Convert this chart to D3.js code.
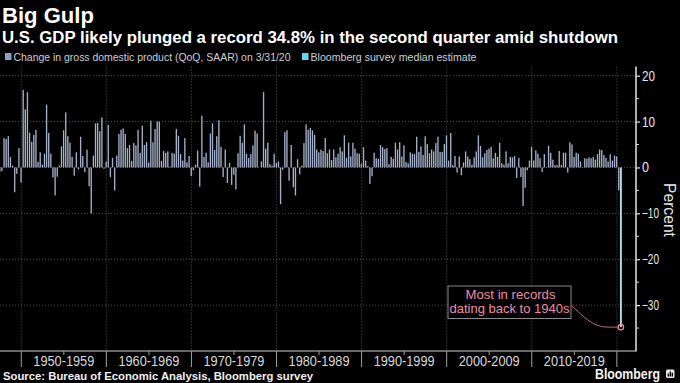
<!DOCTYPE html>
<html><head><meta charset="utf-8">
<script src="https://cdnjs.cloudflare.com/ajax/libs/d3/7.8.5/d3.min.js"></script>
<style>
html,body{margin:0;padding:0;background:#000;}
svg{display:block;}
</style></head>
<body>
<svg id="c" width="680" height="383"></svg>
<script>
// ---- Data ----
const startYear = 1947;
const startQuarter = 2;
const gdpGrowth = [
  -1.0,-0.8,6.4,
  6.2,6.8,2.3,0.4,
  -5.4,-1.4,4.2,-3.3,
  16.9,12.7,16.4,7.6,
  5.6,7.1,8.2,1.2,
  3.3,0.6,3.0,13.7,
  7.5,3.0,-2.2,-6.1,
  -2.0,0.4,4.6,8.1,
  12.0,6.8,5.4,2.3,
  -1.8,3.3,-0.4,6.7,
  2.5,-1.0,3.9,-4.1,
  -10.0,2.6,9.6,9.7,
  7.9,10.9,-0.3,1.3,
  9.3,-2.1,2.1,-5.0,
  2.6,7.3,8.2,8.5,
  7.3,4.2,4.9,1.4,
  5.3,4.8,8.2,3.2,
  9.1,4.9,5.5,1.1,
  10.2,5.5,8.4,10.0,
  10.0,1.4,3.6,3.2,
  3.5,0.2,3.2,3.0,
  8.4,6.9,2.9,1.5,
  6.4,1.1,2.5,-1.9,
  -0.6,0.6,3.7,-4.2,
  11.3,2.3,3.2,1.1,
  7.4,9.6,3.8,6.8,
  10.3,4.5,-2.1,3.9,
  -3.4,1.0,-3.8,-1.6,
  -4.8,3.1,6.9,5.4,
  9.4,3.0,2.1,2.9,
  4.8,8.0,7.4,0.0,
  1.3,16.4,4.1,5.4,
  0.7,0.4,3.0,1.0,
  1.3,-8.0,-0.5,7.7,
  8.1,-2.9,4.9,-4.3,
  -6.1,1.8,-1.5,0.4,
  5.3,9.4,8.2,8.6,
  8.1,7.1,3.9,3.3,
  3.9,3.6,6.4,3.1,
  3.9,1.6,3.9,2.2,
  3.0,4.4,3.5,7.0,
  2.1,5.4,2.4,5.4,
  4.1,3.1,3.0,0.8,
  4.4,1.5,0.3,-3.6,
  -1.9,3.2,2.0,1.9,
  4.9,4.4,4.0,4.2,
  0.7,2.3,1.9,5.4,
  3.9,5.5,2.4,4.8,
  1.2,0.9,3.3,3.0,
  2.9,6.7,3.4,4.6,
  2.7,6.8,5.1,3.1,
  3.9,3.5,5.3,6.7,
  3.4,3.4,5.1,7.0,
  1.5,7.5,0.5,2.5,
  -1.1,2.4,-1.7,1.1,
  3.5,2.4,1.8,0.6,
  2.2,3.5,7.0,4.7,
  2.2,3.1,3.8,4.1,
  4.5,2.0,3.2,2.3,
  5.4,0.9,0.6,3.5,
  0.9,2.3,2.2,2.5,
  -2.3,2.1,-2.1,-8.4,
  -4.4,-0.6,1.5,4.5,
  1.5,3.7,3.0,2.0,
  -1.0,2.9,-0.1,4.7,
  3.2,1.7,0.5,0.5,
  3.6,0.5,3.2,3.2,
  -1.1,5.5,5.0,2.3,
  3.2,3.0,1.3,0.1,
  2.0,1.9,2.2,2.0,
  2.3,1.7,2.9,3.9,
  3.8,2.7,2.1,1.3,
  2.9,1.5,2.6,2.4,
  -5.0
];
const estimateTime = 2020.25;   // 2020 Q2
const estimateValue = -34.8;
const decadeStarts = [1950,1960,1970,1980,1990,2000,2010,2020];
const decadeLabels = ["1950-1959","1960-1969","1970-1979","1980-1989","1990-1999","2000-2009","2010-2019"];
const yTicks = [20,10,0,-10,-20,-30];
const yMinorTicks = [15,5,-5,-15,-25,-35];
const titleText = "Big Gulp";
const subtitleText = "U.S. GDP likely plunged a record 34.8% in the second quarter amid shutdown";
const legendLabels = ["Change in gross domestic product (QoQ, SAAR) on 3/31/20","Bloomberg survey median estimate"];
const noteLines = ["Most in records","dating back to 1940s"];
const sourceText = "Source: Bureau of Economic Analysis, Bloomberg survey";

const series = gdpGrowth.map((v,i)=>{
  const qi = (startQuarter-1) + i;
  return {t: startYear + qi/4, v};
});

// ---- Layout ----
const svg = d3.select("#c");
const W = 680, H = 383;
const plotLeft = 0, plotRight = 636, plotTop = 66.5, plotBottom = 351;
const FONT = "'Liberation Sans', Arial, sans-serif";
const barColor = "#a4afc9";
const estColor = "#b4dbe0";

svg.append("rect").attr("width",W).attr("height",H).attr("fill","#000");

const x = d3.scaleLinear().domain([1947.5, 2022.25]).range([plotLeft, plotRight]);
const y = d3.scaleLinear().domain([-40, 22]).range([plotBottom, plotTop]);
const qw = x(1950.25) - x(1950);
const barW = 1.35;
const cx = t => x(t) + qw*0.9;

function fit(sel, target){
  const n = sel.node();
  const len = n.getComputedTextLength();
  const fs = parseFloat(sel.attr("font-size"));
  sel.attr("font-size", fs*target/len);
  return sel;
}

// gridlines
const grid = svg.append("g");
grid.selectAll("line.h").data(yTicks).join("line")
  .attr("x1",plotLeft).attr("x2",plotRight)
  .attr("y1",d=>y(d)).attr("y2",d=>y(d))
  .attr("stroke","#6a6a6a").attr("stroke-width",0.8).attr("stroke-dasharray","1,2");
grid.selectAll("line.v").data(decadeStarts).join("line")
  .attr("x1",d=>x(d)).attr("x2",d=>x(d))
  .attr("y1",plotTop).attr("y2",plotBottom)
  .attr("stroke","#6a6a6a").attr("stroke-width",0.8).attr("stroke-dasharray","1,2");

// bars
svg.append("clipPath").attr("id","pc").append("rect")
  .attr("x",plotLeft).attr("y",0).attr("width",plotRight-plotLeft).attr("height",H);
const bars = svg.append("g").attr("clip-path","url(#pc)");
bars.selectAll("rect").data(series).join("rect")
  .attr("x",d=>cx(d.t)-barW/2)
  .attr("width",barW)
  .attr("y",d=>Math.min(y(d.v),y(0)))
  .attr("height",d=>Math.abs(y(d.v)-y(0)))
  .attr("fill",barColor);
bars.append("rect")
  .attr("x",cx(estimateTime)-barW/2-0.3)
  .attr("width",barW+0.6)
  .attr("y",y(0))
  .attr("height",y(estimateValue)-y(0))
  .attr("fill",estColor);

// right axis
const yAxis = d3.axisRight(y).tickValues(yTicks).tickSize(4).tickPadding(2).tickFormat(d3.format("d"));
const ya = svg.append("g").attr("transform",`translate(${plotRight},0)`).call(yAxis);
ya.select(".domain").remove();
ya.selectAll("line").attr("stroke","#e6e6e6").attr("stroke-width",1.2);
ya.selectAll("text").attr("fill","#e6e6e6").attr("font-family",FONT).attr("font-size",14);
ya.selectAll(".tick text").each(function(d){
  const s=d3.select(this); const t=String(d);
  s.attr("textLength", t.length===1?7:(t.length===2?13:17)).attr("lengthAdjust","spacingAndGlyphs");
});
svg.append("g").selectAll("line").data(yMinorTicks).join("line")
  .attr("x1",plotRight).attr("x2",plotRight+3)
  .attr("y1",d=>y(d)).attr("y2",d=>y(d))
  .attr("stroke","#cfcfcf").attr("stroke-width",1);
svg.append("line").attr("x1",plotRight).attr("x2",plotRight)
  .attr("y1",plotTop).attr("y2",plotBottom+0.5)
  .attr("stroke","#e6e6e6").attr("stroke-width",1.5);

// Percent label
const pl = svg.append("text").text("Percent")
  .attr("transform",`translate(664,${183}) rotate(90)`)
  .attr("fill","#e6e6e6").attr("font-family",FONT).attr("font-size",15);
fit(pl,54);

// bottom axis
svg.append("line").attr("x1",plotLeft).attr("x2",plotRight)
  .attr("y1",plotBottom).attr("y2",plotBottom)
  .attr("stroke","#d0d0d0").attr("stroke-width",1.2);
svg.append("g").selectAll("line").data(decadeStarts).join("line")
  .attr("x1",d=>x(d)).attr("x2",d=>x(d))
  .attr("y1",plotBottom).attr("y2",plotBottom+16)
  .attr("stroke","#a0a0a0").attr("stroke-width",1);
svg.append("g").selectAll("line").data(decadeStarts.slice(0,7)).join("line")
  .attr("x1",d=>x(d+5)).attr("x2",d=>x(d+5))
  .attr("y1",plotBottom).attr("y2",plotBottom+4)
  .attr("stroke","#a0a0a0").attr("stroke-width",1);
svg.append("g").selectAll("text").data(decadeLabels).join("text")
  .attr("x",(d,i)=>x(decadeStarts[i]+5)).attr("y",365.5)
  .attr("text-anchor","middle")
  .attr("fill","#d8d8d8").attr("font-family",FONT).attr("font-size",14)
  .attr("textLength",61).attr("lengthAdjust","spacingAndGlyphs")
  .text(d=>d);

// title / subtitle
fit(svg.append("text").text(titleText).attr("x",2).attr("y",23)
  .attr("fill","#fff").attr("font-family",FONT).attr("font-weight","bold").attr("font-size",23), 92);
svg.append("text").text(subtitleText).attr("x",2).attr("y",42.5)
  .attr("fill","#fff").attr("font-family",FONT).attr("font-weight","bold").attr("font-size",16)
  .attr("textLength",616).attr("lengthAdjust","spacingAndGlyphs");

// legend
const legX = [5, 302];
const legW = [277, 166];
const legC = ["#8d9ec8", "#62d9e9"];
legendLabels.forEach((lab,i)=>{
  svg.append("rect").attr("x",legX[i]).attr("y",53).attr("width",6.5).attr("height",7).attr("fill",legC[i]);
  svg.append("text").text(lab).attr("x",legX[i]+8.5).attr("y",60.5)
    .attr("fill","#cfcfcf").attr("font-family",FONT).attr("font-size",11.5)
    .attr("textLength",legW[i]).attr("lengthAdjust","spacingAndGlyphs");
});

// annotation
const ex = cx(estimateTime), ey = y(estimateValue);
const bx0 = 448, bx1 = 571, by0 = 286, by1 = 318.5;
svg.append("rect").attr("x",bx0).attr("y",by0).attr("width",bx1-bx0).attr("height",by1-by0)
  .attr("fill","#000").attr("stroke","#8a8a8a").attr("stroke-width",1);
const pink = "#f08ca4";
svg.append("text").text(noteLines[0]).attr("x",(bx0+bx1)/2+1).attr("y",299)
  .attr("text-anchor","middle").attr("fill",pink).attr("font-family",FONT).attr("font-size",12.4)
  .attr("textLength",90).attr("lengthAdjust","spacingAndGlyphs");
svg.append("text").text(noteLines[1]).attr("x",(bx0+bx1)/2).attr("y",313)
  .attr("text-anchor","middle").attr("fill",pink).attr("font-family",FONT).attr("font-size",12.4)
  .attr("textLength",120).attr("lengthAdjust","spacingAndGlyphs");
const path = d3.path();
path.moveTo(bx1, 305);
path.bezierCurveTo(bx1+14, 318, bx1+22, ey, ex-13, ey);
path.lineTo(ex-2.7, ey);
svg.append("path").attr("d",path.toString()).attr("fill","none").attr("stroke","#b8687c").attr("stroke-width",1);
svg.append("circle").attr("cx",ex).attr("cy",ey).attr("r",2.7)
  .attr("fill","none").attr("stroke",pink).attr("stroke-width",1.2);

// source
svg.append("text").text(sourceText).attr("x",3).attr("y",379.5)
  .attr("fill","#f0f0f0").attr("font-family",FONT).attr("font-weight","bold").attr("font-size",11.5)
  .attr("textLength",310).attr("lengthAdjust","spacingAndGlyphs");

// Bloomberg logo
svg.append("text").text("Bloomberg").attr("x",595).attr("y",378.5)
  .attr("fill","#f4f4f4").attr("font-family",FONT).attr("font-weight","bold").attr("font-size",15)
  .attr("textLength",65).attr("lengthAdjust","spacingAndGlyphs");
const lg = svg.append("g").attr("transform","translate(666,369.5)");
lg.append("rect").attr("width",8.5).attr("height",8.5).attr("rx",1.5).attr("fill","#e8e8e8");
[[1.6,4,1.4],[3.6,2,1.4],[5.6,3.2,1.4]].forEach(b=>{
  lg.append("rect").attr("x",b[0]).attr("y",b[1]).attr("width",b[2]).attr("height",7-b[1]).attr("fill","#000");
});
</script>
</body></html>
